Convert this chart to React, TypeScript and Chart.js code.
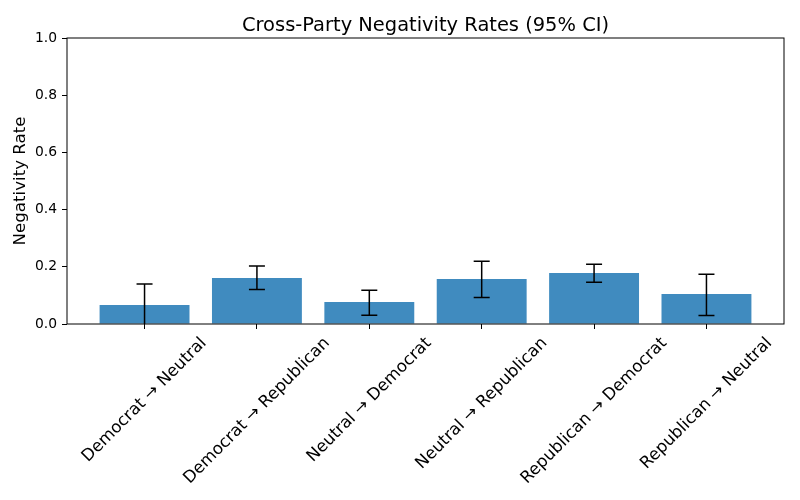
import React, { useEffect, useRef } from "react";
import { Chart, registerables } from "chart.js";

Chart.register(...registerables);

const categories: string[] = [
  "Democrat → Neutral",
  "Democrat → Republican",
  "Neutral → Democrat",
  "Neutral → Republican",
  "Republican → Democrat",
  "Republican → Neutral",
];
const rates: number[] = [0.066, 0.161, 0.077, 0.157, 0.178, 0.105];
const ciLower: number[] = [-0.008, 0.121, 0.031, 0.093, 0.146, 0.03];
const ciUpper: number[] = [0.14, 0.203, 0.118, 0.219, 0.209, 0.174];
const yTicks: number[] = [0, 0.2, 0.4, 0.6, 0.8, 1.0];

const titleText = "Cross-Party Negativity Rates (95% CI)";
const yLabelText = "Negativity Rate";
const FONT = '"DejaVu Sans", sans-serif';

const decorPlugin = {
  id: "decor",
  afterDatasetsDraw(chart: any) {
    const { ctx, chartArea, scales } = chart;
    const xs = scales.x;
    const ys = scales.y;
    ctx.save();
    ctx.beginPath();
    ctx.rect(chartArea.left, chartArea.top, chartArea.right - chartArea.left, chartArea.bottom - chartArea.top);
    ctx.clip();
    ctx.strokeStyle = "#000";
    ctx.lineWidth = 1.5;
    for (let i = 0; i < rates.length; i++) {
      const x = xs.getPixelForValue(i);
      const y1 = ys.getPixelForValue(ciLower[i]);
      const y2 = ys.getPixelForValue(ciUpper[i]);
      ctx.beginPath();
      ctx.moveTo(x, y1);
      ctx.lineTo(x, y2);
      ctx.moveTo(x - 8, y1);
      ctx.lineTo(x + 8, y1);
      ctx.moveTo(x - 8, y2);
      ctx.lineTo(x + 8, y2);
      ctx.stroke();
    }
    ctx.restore();
    ctx.save();
    ctx.strokeStyle = "#000";
    ctx.lineWidth = 1;
    ctx.strokeRect(chartArea.left, chartArea.top, chartArea.right - chartArea.left, chartArea.bottom - chartArea.top);
    ctx.restore();
  },
  afterDraw(chart: any) {
    const { ctx, chartArea, scales } = chart;
    const xs = scales.x;
    ctx.save();
    ctx.fillStyle = "#000";
    ctx.font = `19.44px ${FONT}`;
    ctx.textAlign = "center";
    ctx.textBaseline = "alphabetic";
    ctx.fillText(titleText, (chartArea.left + chartArea.right) / 2, 31);
    ctx.save();
    ctx.font = `16.67px ${FONT}`;
    ctx.translate(21, (chartArea.top + chartArea.bottom) / 2);
    ctx.rotate(-Math.PI / 2);
    ctx.textAlign = "center";
    ctx.textBaseline = "middle";
    ctx.fillText(yLabelText, 0, 0);
    ctx.restore();
    ctx.font = `16.67px ${FONT}`;
    const h = 19.4;
    const c = Math.SQRT1_2;
    for (let i = 0; i < categories.length; i++) {
      const tx = xs.getPixelForValue(i);
      const w = ctx.measureText(categories[i]).width;
      const bboxH = (w + h) * c;
      const cy = chartArea.bottom + 9.7 + bboxH / 2;
      ctx.save();
      ctx.translate(tx, cy);
      ctx.rotate(-Math.PI / 4);
      ctx.textAlign = "center";
      ctx.textBaseline = "middle";
      ctx.fillText(categories[i], 0, 0);
      ctx.restore();
    }
    ctx.restore();
  },
};

export default function App() {
  const ref = useRef<HTMLCanvasElement | null>(null);
  useEffect(() => {
    if (!ref.current) return;
    const chart = new Chart(ref.current, {
      type: "bar",
      data: {
        datasets: [
          {
            data: rates.map((v, i) => ({ x: i, y: v })),
            backgroundColor: "rgba(31,119,180,0.85)",
            borderWidth: 0,
            barPercentage: 0.8,
            categoryPercentage: 1.0,
          },
        ],
      },
      options: {
        animation: false,
        responsive: false,
        layout: { padding: { top: 38, right: 16, left: 0, bottom: 0 } },
        plugins: {
          legend: { display: false },
          tooltip: { enabled: false },
          title: { display: false },
        },
        scales: {
          x: {
            type: "linear",
            min: -0.69,
            max: 5.69,
            offset: false,
            afterBuildTicks: (scale: any) => {
              scale.ticks = categories.map((_, i) => ({ value: i }));
            },
            afterFit: (scale: any) => {
              scale.height = 176;
            },
            ticks: { display: false },
            grid: {
              display: true,
              offset: false,
              drawOnChartArea: false,
              drawTicks: true,
              tickLength: 5,
              color: "#000",
              lineWidth: 1,
            },
            border: { display: false },
          },
          y: {
            min: 0,
            max: 1,
            afterBuildTicks: (scale: any) => {
              scale.ticks = yTicks.map((v) => ({ value: v }));
            },
            afterFit: (scale: any) => {
              scale.width = 67;
            },
            ticks: {
              color: "#000",
              font: { family: FONT, size: 13.89 },
              padding: 5,
              callback: (v: any) => Number(v).toFixed(1),
            },
            grid: {
              display: true,
              drawOnChartArea: false,
              drawTicks: true,
              tickLength: 5,
              color: "#000",
              lineWidth: 1,
            },
            border: { display: false },
          },
        },
      },
      plugins: [decorPlugin],
    } as any);
    return () => chart.destroy();
  }, []);
  return (
    <div style={{ position: "absolute", left: 0, top: 0, width: 800, height: 500, background: "#fff" }}>
      <canvas ref={ref} width={800} height={500} style={{ width: 800, height: 500 }} />
    </div>
  );
}
